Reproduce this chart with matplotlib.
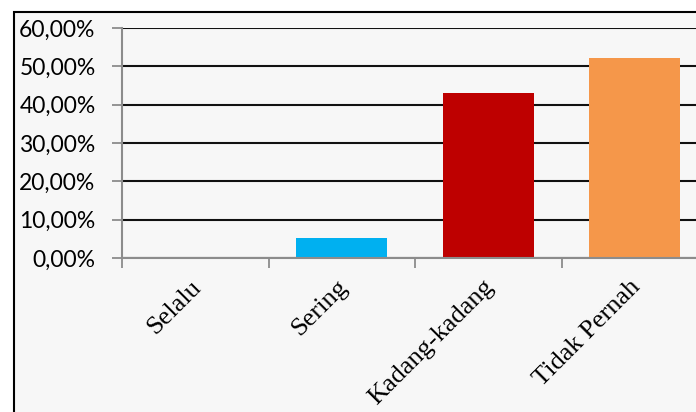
import numpy as np
import matplotlib.pyplot as plt
from matplotlib.patches import Rectangle
from matplotlib.ticker import FuncFormatter
from matplotlib.transforms import ScaledTranslation

categories = ['Selalu', 'Sering', 'Kadang-kadang', 'Tidak Pernah']
values = [0.0, 0.052, 0.43, 0.522]
colors = ['#4F81BD', '#00B0F0', '#BE0000', '#F5974A']
y_ticks = [0, 0.1, 0.2, 0.3, 0.4, 0.5, 0.6]

fig = plt.figure(figsize=(6.96, 4.12), dpi=100, facecolor='white')

# chart frame (cropped on right and bottom like the reference)
frame = Rectangle((13.5 / 696, -0.2), 1.2, 0.2 + (412 - 12) / 412,
                  transform=fig.transFigure, facecolor='#F7F7F7',
                  edgecolor='black', linewidth=1.5, zorder=0)
fig.patches.append(frame)

# plot area: x from 122px to 708px (beyond image edge), y from 258px to 28px
ax = fig.add_axes([122 / 696, (412 - 258) / 412, 586 / 696, 230 / 412])
ax.set_facecolor('none')
ax.set_zorder(2)

x = np.arange(len(categories))
ax.bar(x, values, width=0.62, color=colors, zorder=3)

ax.set_xlim(-0.5, len(categories) - 0.5)
ax.set_ylim(0, 0.6)
ax.set_yticks(y_ticks)
ax.yaxis.set_major_formatter(FuncFormatter(lambda v, p: f'{v * 100:.2f}%'.replace('.', ',')))
ax.grid(axis='y', color='#111111', linewidth=1.5, zorder=1)
ax.set_axisbelow(True)

for s in ['top', 'right']:
    ax.spines[s].set_visible(False)
for s in ['left', 'bottom']:
    ax.spines[s].set_color('#8C8C8C')
    ax.spines[s].set_linewidth(1.5)
    ax.spines[s].set_zorder(4)

ax.tick_params(axis='y', direction='out', length=7, width=1.3, color='#8C8C8C',
               pad=12, labelsize=16.5, labelcolor='black')
for lbl in ax.get_yticklabels():
    lbl.set_fontfamily('Lato')

# category boundary ticks (minor) and labels at centres (major)
ax.set_xticks(x)
ax.set_xticks(np.arange(-0.5, len(categories), 1.0), minor=True)
ax.tick_params(axis='x', which='major', length=0, pad=13)
ax.tick_params(axis='x', which='minor', direction='out', length=7, width=1.3, color='#8C8C8C')
ax.set_xticklabels(categories, rotation=45, ha='right', rotation_mode='anchor',
                   fontfamily='Liberation Serif', fontsize=19)
shift = ScaledTranslation(-4 / 72, 0, fig.dpi_scale_trans)
for lbl in ax.get_xticklabels():
    lbl.set_transform(lbl.get_transform() + shift)

fig.savefig('out.png', dpi=100, facecolor=fig.get_facecolor())
